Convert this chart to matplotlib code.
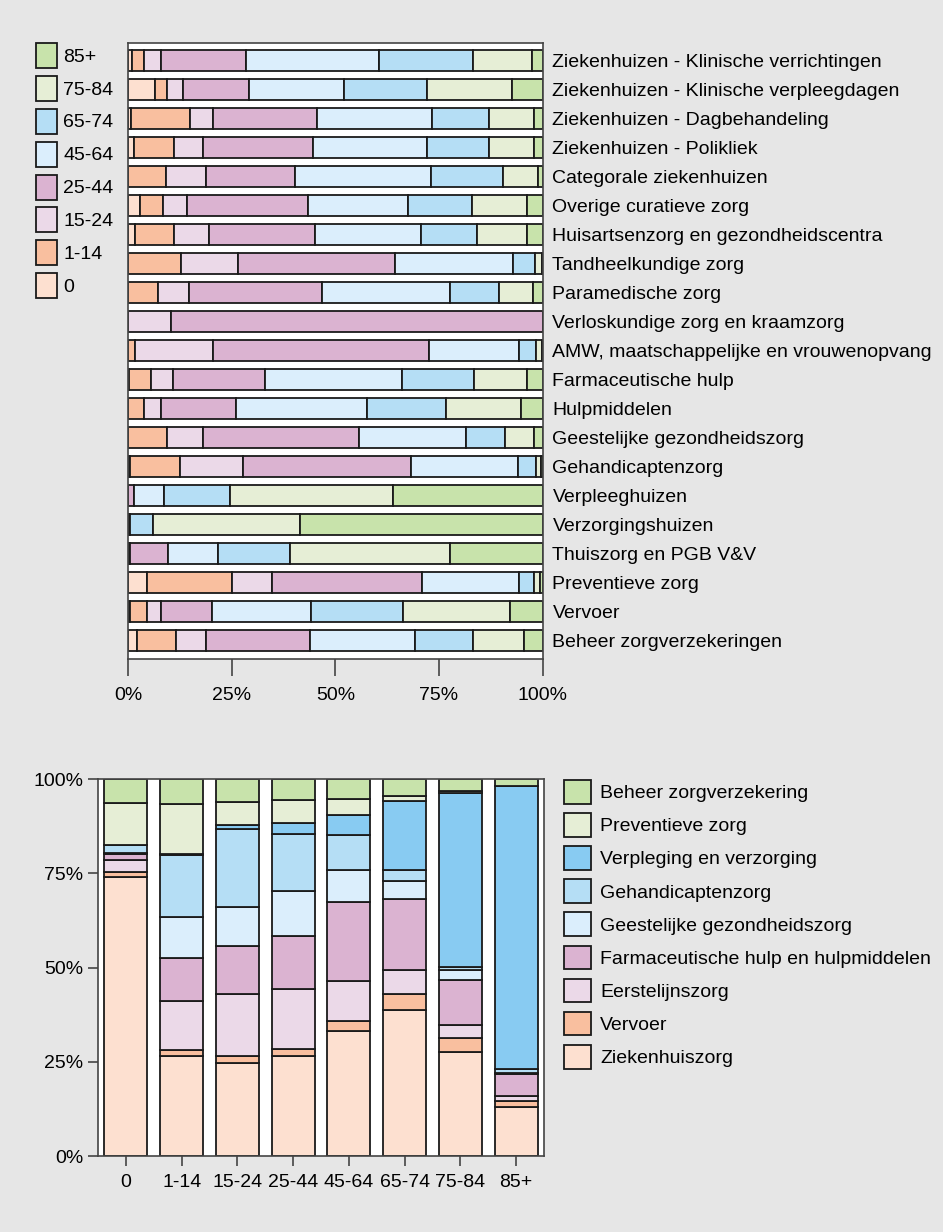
import numpy as np
import matplotlib
matplotlib.use("Agg")
import matplotlib.pyplot as plt
from matplotlib.patches import Patch

plt.rcParams['font.family'] = ['Liberation Sans', 'DejaVu Sans']
plt.rcParams['font.size'] = 14

# ---- top chart: share of costs per age group, per sector ----
sectors = [
    "Ziekenhuizen - Klinische verrichtingen",
    "Ziekenhuizen - Klinische verpleegdagen",
    "Ziekenhuizen - Dagbehandeling",
    "Ziekenhuizen - Polikliek",
    "Categorale ziekenhuizen",
    "Overige curatieve zorg",
    "Huisartsenzorg en gezondheidscentra",
    "Tandheelkundige zorg",
    "Paramedische zorg",
    "Verloskundige zorg en kraamzorg",
    "AMW, maatschappelijke en vrouwenopvang",
    "Farmaceutische hulp",
    "Hulpmiddelen",
    "Geestelijke gezondheidszorg",
    "Gehandicaptenzorg",
    "Verpleeghuizen",
    "Verzorgingshuizen",
    "Thuiszorg en PGB V&V",
    "Preventieve zorg",
    "Vervoer",
    "Beheer zorgverzekeringen",
]
age_groups = ["0", "1-14", "15-24", "25-44", "45-64", "65-74", "75-84", "85+"]

age_0     = [1.0, 6.6, 0.7, 1.4, 0.0, 2.8, 1.7, 0.0, 0.0, 0.0, 0.0, 0.3, 0.0, 0.0, 0.5, 0.0, 0.0, 0.0, 4.5, 0.5, 2.1]
age_1_14  = [2.9, 2.7, 14.3, 9.7, 9.1, 5.6, 9.4, 12.9, 7.2, 0.0, 1.7, 5.3, 3.8, 9.3, 12.1, 0.0, 0.0, 0.2, 20.5, 4.0, 9.4]
age_15_24 = [4.1, 3.9, 5.5, 7.0, 9.7, 5.9, 8.4, 13.6, 7.5, 10.4, 18.8, 5.2, 4.2, 8.8, 15.2, 0.0, 0.0, 0.3, 9.8, 3.5, 7.3]
age_25_44 = [20.5, 16.0, 25.1, 26.4, 21.5, 29.2, 25.7, 38.0, 32.2, 89.6, 52.1, 22.2, 18.1, 37.6, 40.4, 1.4, 0.2, 9.2, 36.2, 12.2, 25.1]
age_45_64 = [32.1, 23.0, 27.8, 27.5, 32.8, 24.1, 25.5, 28.4, 30.7, 0.0, 21.7, 33.1, 31.6, 25.7, 25.8, 7.2, 0.2, 11.9, 23.3, 24.0, 25.4]
age_65_74 = [22.6, 19.8, 13.6, 15.0, 17.4, 15.3, 13.5, 5.2, 11.8, 0.0, 4.2, 17.4, 19.1, 9.4, 4.5, 16.1, 5.6, 17.4, 3.5, 22.2, 13.9]
age_75_84 = [14.2, 20.5, 10.8, 10.8, 8.3, 13.2, 11.9, 1.7, 8.2, 0.0, 1.3, 12.6, 17.9, 7.0, 1.2, 39.3, 35.5, 38.6, 1.6, 25.6, 12.3]
age_85    = [2.6, 7.5, 2.2, 2.2, 1.2, 3.9, 3.9, 0.2, 2.4, 0.0, 0.2, 3.9, 5.3, 2.2, 0.3, 36.0, 58.5, 22.4, 0.6, 8.0, 4.5]

# ---- bottom chart: share of costs per sector, per age group ----
sector_groups = ["Ziekenhuiszorg", "Vervoer", "Eerstelijnszorg",
                 "Farmaceutische hulp en hulpmiddelen", "Geestelijke gezondheidszorg",
                 "Gehandicaptenzorg", "Verpleging en verzorging", "Preventieve zorg",
                 "Beheer zorgverzekering"]
ziekenhuis   = [73.9, 26.5, 24.7, 26.7, 33.2, 38.9, 27.6, 13.0]
vervoer      = [1.4, 1.6, 1.8, 1.7, 2.7, 4.1, 3.8, 1.6]
eerstelijns  = [3.2, 13.1, 16.6, 15.9, 10.6, 6.4, 3.3, 1.3]
farmaceut    = [1.5, 11.4, 12.6, 14.0, 20.9, 18.9, 11.9, 5.9]
geestelijk   = [0.5, 10.7, 10.5, 12.0, 8.6, 4.7, 2.8, 0.3]
gehandicapt  = [1.9, 16.6, 20.5, 15.2, 9.2, 2.8, 0.9, 1.0]
verpleging   = [0.2, 0.3, 1.2, 2.9, 5.3, 18.4, 46.1, 75.0]
preventief   = [11.0, 13.3, 5.9, 6.1, 4.1, 1.2, 0.5, 0.1]
beheer       = [6.4, 6.5, 6.2, 5.5, 5.4, 4.6, 3.1, 1.8]

c_peach = "#fde0d0"
c_orange = "#f9bf9f"
c_lpink = "#ebd9e8"
c_pink = "#dbb3d1"
c_lblue = "#dbeefc"
c_blue = "#b5def5"
c_dblue = "#88cbf2"
c_lgreen = "#e6eed6"
c_green = "#c8e3ab"

age_colors = [c_peach, c_orange, c_lpink, c_pink, c_lblue, c_blue, c_lgreen, c_green]
sector_colors = [c_peach, c_orange, c_lpink, c_pink, c_lblue, c_blue, c_dblue, c_lgreen, c_green]

edge = "#1a1a1a"
lw = 1.3
spine_c = "#444444"

fig = plt.figure(figsize=(9.43, 12.32), dpi=100, facecolor="#e6e6e6")

# top chart
ax1 = fig.add_axes([128 / 943, 1 - 659 / 1232, 414.7 / 943, 615.7 / 1232])
ax1.set_facecolor("white")
age_data = [age_0, age_1_14, age_15_24, age_25_44, age_45_64, age_65_74, age_75_84, age_85]
y = np.arange(len(sectors))
left = np.zeros(len(sectors))
for vals, col in zip(age_data, age_colors):
    ax1.barh(y, vals, left=left, height=0.74, color=col, edgecolor=edge, linewidth=lw)
    left += np.array(vals)
ax1.set_xlim(0, 100)
ax1.set_ylim(20.64, -0.6)
ax1.set_yticks(y)
ax1.set_yticklabels(sectors)
ax1.yaxis.tick_right()
ax1.tick_params(axis="y", length=0, pad=7)
ax1.set_xticks([0, 25, 50, 75, 100])
ax1.set_xticklabels(["0%", "25%", "50%", "75%", "100%"])
ax1.tick_params(axis="x", length=12.5, width=1.2, color=spine_c, pad=8)
for s in ax1.spines.values():
    s.set_color(spine_c)
    s.set_linewidth(1.2)

handles1 = [Patch(facecolor=c, edgecolor=edge, linewidth=lw, label=a)
            for a, c in zip(age_groups, age_colors)][::-1]
fig.legend(handles=handles1, loc="upper left", bbox_to_anchor=(35.7 / 943, 1 - 42.7 / 1232),
           frameon=False, borderpad=0, borderaxespad=0, handlelength=1.08, handleheight=1.6,
           handletextpad=0.34, labelspacing=0.41, fontsize=14)

# bottom chart
ax2 = fig.add_axes([98 / 943, 1 - 1156.3 / 1232, 446 / 943, 377.3 / 1232])
ax2.set_facecolor("white")
sector_data = [ziekenhuis, vervoer, eerstelijns, farmaceut, geestelijk,
               gehandicapt, verpleging, preventief, beheer]
x = np.arange(len(age_groups))
bottom = np.zeros(len(age_groups))
for vals, col in zip(sector_data, sector_colors):
    ax2.bar(x, vals, bottom=bottom, width=0.77, color=col, edgecolor=edge, linewidth=lw)
    bottom += np.array(vals)
ax2.set_xlim(-0.5, 7.5)
ax2.set_ylim(0, 100)
ax2.set_yticks([0, 25, 50, 75, 100])
ax2.set_yticklabels(["0%", "25%", "50%", "75%", "100%"])
ax2.set_xticks(x)
ax2.set_xticklabels(age_groups)
ax2.tick_params(axis="y", length=7, width=1.2, color=spine_c, pad=3.5)
ax2.tick_params(axis="x", length=7, width=1.2, color=spine_c, pad=6)
for s in ax2.spines.values():
    s.set_color(spine_c)
    s.set_linewidth(1.2)

handles2 = [Patch(facecolor=c, edgecolor=edge, linewidth=lw, label=n)
            for n, c in zip(sector_groups, sector_colors)][::-1]
fig.legend(handles=handles2, loc="upper left", bbox_to_anchor=(564 / 943, 1 - 780 / 1232),
           frameon=False, borderpad=0, borderaxespad=0, handlelength=1.39, handleheight=1.49,
           handletextpad=0.46, labelspacing=0.49, fontsize=14)

fig.savefig("out.png", dpi=100, facecolor=fig.get_facecolor())
